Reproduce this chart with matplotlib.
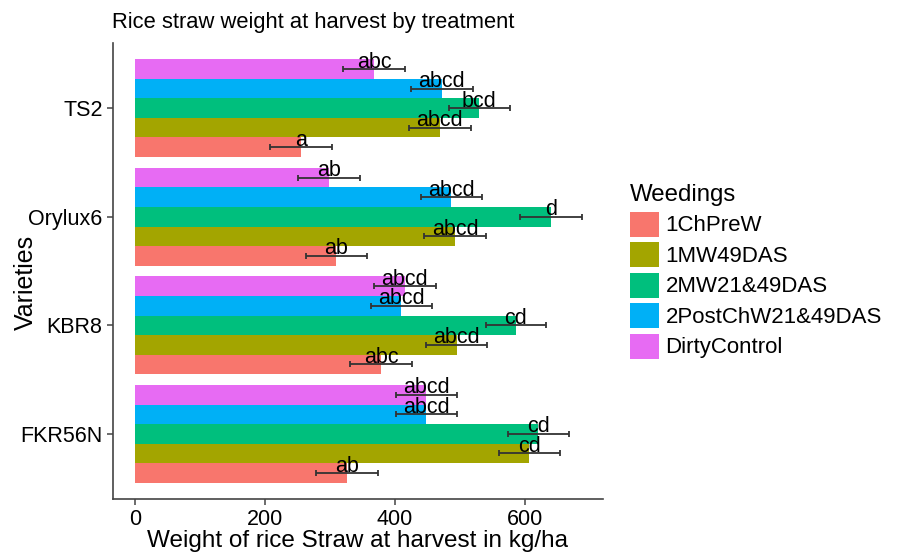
import matplotlib.pyplot as plt
import numpy as np

plt.rcParams['font.family'] = ['Liberation Sans', 'DejaVu Sans']

varieties = ['FKR56N', 'KBR8', 'Orylux6', 'TS2']
weedings = ['1ChPreW', '1MW49DAS', '2MW21&49DAS', '2PostChW21&49DAS', 'DirtyControl']
colors = ['#F8766D', '#A3A500', '#00BF7D', '#00B0F6', '#E76BF3']

# mean straw weight (kg/ha), one list per weeding, in the order of varieties
w_1chprew = [326, 379, 310, 255]
w_1mw49 = [607, 495, 493, 469]
w_2mw21_49 = [621, 586, 640, 530]
w_2postchw = [448, 410, 487, 472]
w_dirty = [448, 415, 298, 368]

# standard errors
se_1chprew = [47.5, 47.5, 47.5, 47.5]
se_1mw49 = [47.5, 47.5, 47.5, 47.5]
se_2mw21_49 = [47.5, 46.0, 47.5, 47.5]
se_2postchw = [47.0, 47.5, 47.5, 47.5]
se_dirty = [47.0, 47.5, 47.5, 47.2]

# letters from the mean comparison test
lt_1chprew = ['ab', 'abc', 'ab', 'a']
lt_1mw49 = ['cd', 'abcd', 'abcd', 'abcd']
lt_2mw21_49 = ['cd', 'cd', 'd', 'bcd']
lt_2postchw = ['abcd', 'abcd', 'abcd', 'abcd']
lt_dirty = ['abcd', 'abcd', 'ab', 'abc']

means = [w_1chprew, w_1mw49, w_2mw21_49, w_2postchw, w_dirty]
errors = [se_1chprew, se_1mw49, se_2mw21_49, se_2postchw, se_dirty]
letters = [lt_1chprew, lt_1mw49, lt_2mw21_49, lt_2postchw, lt_dirty]

fig = plt.figure(figsize=(8.97, 5.53), dpi=100)
ax = fig.add_axes([0.126, 0.0976, 0.546, 0.8246])

y = np.arange(1, len(varieties) + 1)
h = 0.9 / len(weedings)

for i, name in enumerate(weedings):
    yy = y + (i - 2) * h
    ax.barh(yy, means[i], height=h, color=colors[i], label=name)

for i, name in enumerate(weedings):
    yy = y + (i - 2) * h
    ax.errorbar(means[i], yy, xerr=errors[i], fmt='none', ecolor='#333333',
                elinewidth=1.3, capsize=2.5, capthick=1.3)
    for v, yv, t in zip(means[i], yy, letters[i]):
        ax.annotate(t, (v, yv), xytext=(0, 1), textcoords='offset points',
                    ha='center', va='baseline', fontsize=15.5, color='black')

ax.set_xlim(-34, 720)
ax.set_ylim(0.4, 4.6)
ax.set_yticks(y)
ax.set_yticklabels(varieties)
ax.set_xticks([0, 200, 400, 600])

for s in ['top', 'right']:
    ax.spines[s].set_visible(False)
for s in ['left', 'bottom']:
    ax.spines[s].set_color('#444444')
    ax.spines[s].set_linewidth(1.2)
ax.tick_params(colors='#444444', length=4.5, width=1.1, labelsize=15.5,
               labelcolor='black', pad=3)

ax.set_xlabel('Weight of rice Straw at harvest in kg/ha', fontsize=17.5, labelpad=0)
ax.set_ylabel('Varieties', fontsize=18, va='baseline')
ax.yaxis.set_label_coords((33 - 113) / 490, (499 - 282) / 456)

fig.text(112 / 897, 1 - 28 / 553, 'Rice straw weight at harvest by treatment',
         fontsize=15.8, ha='left', va='baseline')

leg = ax.legend(loc='upper left', bbox_to_anchor=(630 / 897, 1 - 184 / 553),
                bbox_transform=fig.transFigure, frameon=False, fontsize=16,
                title='Weedings', title_fontsize=17.3, handlelength=1.3,
                handleheight=1.35, labelspacing=0.25, handletextpad=0.3,
                borderpad=0, borderaxespad=0)
leg._legend_box.align = 'left'

fig.savefig('out.png', dpi=100)
